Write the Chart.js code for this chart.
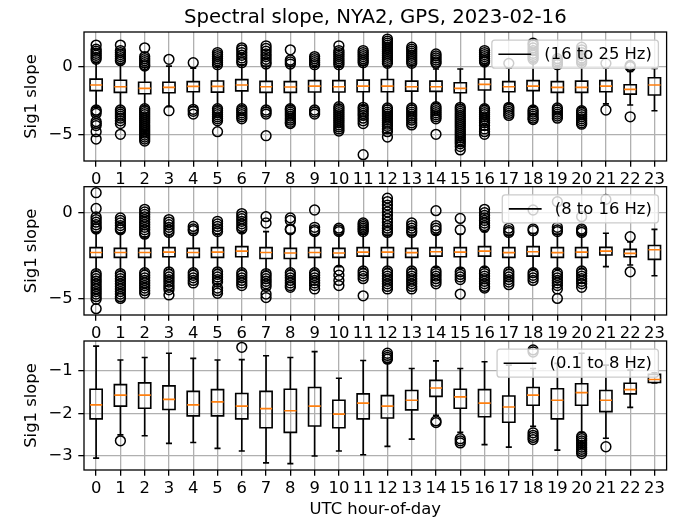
<!DOCTYPE html>
<html>
<head>
<meta charset="utf-8">
<title>Spectral slope, NYA2, GPS, 2023-02-16</title>
<script src="https://cdn.jsdelivr.net/npm/chart.js@4.4.1/dist/chart.umd.min.js"></script>
<style>
  body { margin: 0; background: #fff; }
  #wrap { position: relative; width: 673px; height: 520px; }
  #wrap canvas { position: absolute; left: 0; top: 0; }
</style>
</head>
<body>
<div id="wrap">
  <canvas id="hfChart" width="673" height="520"></canvas>
  <canvas id="mfChart" width="673" height="520"></canvas>
  <canvas id="lfChart" width="673" height="520"></canvas>
</div>
<script>
'use strict';
let hours = [0, 1, 2, 3, 4, 5, 6, 7, 8, 9, 10, 11, 12, 13, 14, 15, 16, 17, 18, 19, 20, 21, 22, 23];
let bandLabels = ['(16 to 25 Hz)', '(8 to 16 Hz)', '(0.1 to 8 Hz)'];
let hfTicks = [0, -5];
let mfTicks = [0, -5];
let lfTicks = [-1, -2, -3];
let hfRange = [-6.97, 2.57];
let mfRange = [-5.97, 1.52];
let lfRange = [-3.34, -0.29];

// 16 to 25 Hz
let hfQ3 = [-0.91, -1.0, -1.15, -1.15, -1.1, -1.05, -0.95, -1.08, -1.1, -1.03, -1.03, -0.99, -0.94, -1.06, -1.06, -1.18, -0.91, -1.1, -1.03, -1.1, -1.06, -1.03, -1.33, -0.81];
let hfMed = [-1.35, -1.48, -1.6, -1.53, -1.45, -1.45, -1.35, -1.48, -1.5, -1.43, -1.48, -1.43, -1.43, -1.48, -1.48, -1.6, -1.3, -1.48, -1.43, -1.53, -1.53, -1.43, -1.67, -1.35];
let hfQ1 = [-1.77, -1.9, -2.0, -1.92, -1.85, -1.88, -1.78, -1.9, -1.9, -1.87, -1.87, -1.85, -1.85, -1.8, -1.82, -1.92, -1.72, -1.85, -1.77, -1.9, -1.9, -1.85, -2.02, -2.09];
let hfHigh = [0.3, 0.2, -0.05, 0.05, -0.1, 0.0, 0.15, 0.05, 0.05, 0.0, 0.0, 0.1, 0.05, 0.1, -0.17, -0.17, 0.2, -0.1, 0.35, 0.0, 0.2, -0.1, -0.35, -0.12];
let hfLow = [-3.0, -3.0, -2.9, -2.95, -2.95, -2.9, -2.9, -3.0, -2.9, -3.0, -2.8, -2.85, -2.85, -2.85, -2.7, -2.8, -2.85, -2.75, -2.95, -2.85, -3.0, -2.75, -2.83, -3.25];
let hfOut = [
  [1.6, 1.3, 1.15, 1.0, 0.85, 0.7, 0.55, -3.2, -3.3, -3.45, -4.05, -4.2, -4.35, -4.8, -5.35],
  [1.6, 1.2, 1.05, 0.9, 0.75, 0.6, 0.45, -3.2, -3.35, -3.5, -3.65, -3.8, -4.0, -4.2, -5.0],
  [1.4, 0.75, 0.6, 0.45, 0.3, 0.15, 0.05, -3.1, -3.25, -3.4, -3.55, -3.7, -3.85, -4.0, -4.15, -4.3, -4.45, -4.6, -4.75, -4.9, -5.05, -5.2, -5.35, -5.5],
  [0.55, -3.25],
  [0.3, -3.15, -3.3, -3.5],
  [1.05, 0.9, 0.75, 0.6, 0.45, 0.3, 0.15, -3.1, -3.25, -3.4, -3.55, -3.7, -3.85, -4.0, -4.8],
  [1.4, 1.25, 1.05, 0.85, 0.65, 0.45, 0.3, -3.1, -3.25, -3.4, -3.55, -3.7, -3.85],
  [1.55, 1.35, 1.15, 0.95, 0.75, 0.55, 0.35, 0.2, -3.2, -3.35, -3.5, -5.1],
  [1.25, 0.5, 0.35, 0.2, -3.1, -3.2, -3.35, -3.5, -3.65, -3.8, -3.95, -4.1, -4.2],
  [0.75, 0.6, 0.45, 0.3, 0.15, -3.2, -3.35, -3.5],
  [1.55, 1.2, 1.05, 0.9, 0.75, 0.6, 0.45, 0.3, 0.15, -2.95, -3.1, -3.25, -3.4, -3.55, -3.7, -3.85, -4.0, -4.15, -4.3, -4.45, -4.6, -4.75],
  [1.2, 1.05, 0.9, 0.75, 0.6, 0.45, 0.3, -3.0, -3.15, -3.3, -3.45, -3.6, -3.8, -4.0, -4.2, -6.5],
  [2.05, 1.9, 1.75, 1.6, 1.45, 1.3, 1.15, 1.0, 0.85, 0.7, 0.55, 0.4, 0.25, -3.05, -3.2, -3.35, -3.5, -3.65, -3.8, -3.95, -4.1, -4.25, -4.4, -4.6, -4.8, -5.2],
  [1.45, 1.3, 1.15, 1.0, 0.85, 0.7, 0.55, 0.4, 0.25, -3.05, -3.2, -3.35, -3.5, -3.65, -3.8, -3.95, -4.15, -4.3],
  [0.95, 0.8, 0.65, 0.5, 0.35, 0.25, -2.95, -3.1, -3.25, -3.4, -3.55, -3.7, -3.85, -5.0],
  [-3.0, -3.15, -3.3, -3.45, -3.6, -3.75, -3.9, -4.05, -4.2, -4.35, -4.5, -4.65, -4.8, -4.95, -5.1, -5.25, -5.4, -5.55, -5.7, -5.9, -6.15],
  [1.2, 1.05, 0.9, 0.75, 0.6, 0.45, 0.35, -3.1, -3.25, -3.4, -3.55, -3.7, -3.85, -4.0, -4.15, -4.35, -4.6, -4.8, -5.0],
  [0.25, -3.0, -3.15, -3.3, -3.45, -3.6],
  [1.75, 1.6, 1.4, 1.2, 1.0, 0.85, 0.7, 0.55, -3.2, -3.35, -3.5, -3.65, -3.8, -3.9],
  [0.6, 0.45, 0.3, 0.15, -3.05, -3.2, -3.35, -3.5, -3.65, -3.8],
  [1.45, 1.25, 1.05, 0.85, 0.65, 0.45, 0.3, -3.25, -3.4, -3.55, -3.7, -3.85, -4.0, -4.15, -4.25],
  [0.25, -3.2],
  [0.1, 0.0, -3.7],
  []
];

// 8 to 16 Hz
let mfQ3 = [-2.04, -2.08, -2.08, -2.04, -2.08, -2.04, -1.98, -2.04, -2.08, -2.04, -2.08, -2.04, -2.04, -2.08, -2.04, -2.04, -1.98, -2.04, -1.98, -2.04, -2.04, -2.02, -2.14, -1.91];
let mfMed = [-2.32, -2.32, -2.32, -2.3, -2.32, -2.3, -2.24, -2.32, -2.35, -2.32, -2.35, -2.3, -2.3, -2.33, -2.28, -2.3, -2.24, -2.33, -2.28, -2.33, -2.3, -2.24, -2.37, -2.16];
let mfQ1 = [-2.61, -2.61, -2.61, -2.57, -2.61, -2.61, -2.57, -2.67, -2.67, -2.61, -2.61, -2.53, -2.61, -2.61, -2.53, -2.57, -2.53, -2.61, -2.53, -2.61, -2.61, -2.47, -2.57, -2.72];
let mfHigh = [-1.15, -1.2, -1.4, -1.3, -1.2, -1.25, -1.15, -1.1, -1.2, -1.3, -1.3, -1.25, -1.3, -1.3, -1.25, -1.25, -1.1, -1.3, -1.2, -1.25, -1.3, -1.2, -1.7, -0.97];
let mfLow = [-3.4, -3.4, -3.35, -3.3, -3.35, -3.3, -3.35, -3.4, -3.35, -3.35, -3.15, -3.25, -3.25, -3.25, -3.2, -3.25, -3.2, -3.3, -3.3, -3.3, -3.25, -3.15, -3.05, -3.68];
let mfOut = [
  [1.17, 0.25, -0.25, -0.4, -0.55, -0.7, -0.85, -0.95, -3.55, -3.7, -3.85, -4.0, -4.15, -4.3, -4.45, -4.6, -4.75, -4.9, -5.05, -5.6],
  [-0.3, -0.45, -0.6, -0.75, -0.9, -1.0, -3.55, -3.7, -3.85, -4.0, -4.15, -4.3, -4.45, -4.6, -4.75, -4.9, -5.0],
  [0.2, 0.05, -0.1, -0.25, -0.4, -0.55, -0.7, -0.85, -1.0, -1.15, -1.25, -3.5, -3.65, -3.8, -3.95, -4.1, -4.25, -4.4, -4.55, -4.7],
  [-0.4, -0.55, -0.7, -0.85, -1.0, -1.15, -3.45, -3.6, -3.75, -3.9, -4.05, -4.2, -4.35, -4.5, -4.8],
  [-0.8, -0.95, -1.05, -3.5, -3.65, -3.8, -3.95, -4.1],
  [-0.5, -0.65, -0.8, -0.95, -1.1, -3.45, -3.6, -3.75, -3.9, -4.05, -4.4, -4.55, -4.7],
  [-0.05, -0.2, -0.35, -0.5, -0.65, -0.8, -0.95, -3.5, -3.65, -3.8, -3.95, -4.1, -4.25],
  [-0.23, -0.6, -3.55, -3.7, -3.85, -4.0, -4.15, -4.3, -4.75, -4.95],
  [-0.3, -0.45, -0.95, -1.0, -3.5, -3.65, -3.8, -3.95, -4.1, -4.25, -4.35],
  [0.16, -0.85, -1.0, -1.1, -3.5, -3.65, -3.8, -3.95, -4.1, -4.25, -4.45],
  [-0.9, -1.0, -1.1, -3.35, -3.65, -3.95, -4.25],
  [-0.6, -0.7, -0.8, -0.9, -1.0, -1.1, -3.4, -3.55, -3.7, -3.85, -4.85],
  [0.85, 0.65, 0.45, 0.25, 0.05, -0.15, -0.35, -0.55, -0.75, -0.9, -1.05, -1.15, -3.4, -3.55, -3.7, -3.85, -4.0, -4.15, -4.3, -4.45],
  [-0.6, -0.75, -0.9, -1.05, -1.15, -3.4, -3.55, -3.7, -3.85, -4.0, -4.15, -4.3, -4.45],
  [0.12, -0.75, -0.9, -1.05, -3.4, -3.55, -3.7, -3.85, -4.0, -4.15],
  [-0.33, -1.0, -3.45, -3.6, -3.75, -3.9, -4.75],
  [0.2, 0.0, -0.15, -0.3, -0.45, -0.6, -0.75, -0.85, -3.4, -3.55, -3.7, -3.85, -4.0, -4.15, -4.3, -4.4],
  [-0.9, -1.05, -1.15, -3.45, -3.6, -3.75, -3.9, -4.05, -4.2],
  [0.16, -0.95, -1.05, -3.5, -3.65, -3.8, -3.95],
  [0.64, -0.85, -1.0, -1.1, -3.5, -3.65, -3.8, -3.95, -4.1, -4.25, -4.45, -5.0],
  [-0.23, -0.95, -1.05, -1.15, -3.4, -3.55, -3.7, -3.85, -4.0, -4.15, -4.35],
  [0.78],
  [-1.4, -3.45],
  []
];

// 0.1 to 8 Hz
let lfQ3 = [-1.43, -1.32, -1.28, -1.35, -1.48, -1.44, -1.53, -1.48, -1.43, -1.39, -1.69, -1.54, -1.58, -1.46, -1.22, -1.43, -1.44, -1.59, -1.39, -1.42, -1.30, -1.46, -1.29, -1.08];
let lfMed = [-1.80, -1.57, -1.57, -1.67, -1.80, -1.73, -1.83, -1.89, -1.94, -1.83, -2.02, -1.76, -1.83, -1.69, -1.40, -1.61, -1.76, -1.85, -1.57, -1.69, -1.51, -1.69, -1.44, -1.20];
let lfQ1 = [-2.13, -1.83, -1.88, -1.91, -2.06, -2.06, -2.13, -2.34, -2.45, -2.30, -2.34, -2.13, -2.11, -1.92, -1.60, -1.88, -2.08, -2.21, -1.81, -2.13, -1.81, -1.96, -1.54, -1.27];
let lfHigh = [-0.41, -0.74, -0.68, -0.58, -0.70, -0.74, -0.73, -0.64, -0.68, -0.54, -1.17, -0.75, -0.80, -0.94, -0.76, -0.94, -0.78, -0.86, -0.94, -0.82, -0.58, -0.86, -0.98, -1.04];
let lfLow = [-3.06, -2.51, -2.53, -2.71, -2.69, -2.83, -2.89, -3.17, -3.19, -3.01, -2.89, -2.98, -2.78, -2.61, -2.05, -2.45, -2.74, -2.80, -2.31, -2.87, -2.45, -2.59, -1.86, -1.28];
let lfOut = [[], [-2.65], [], [], [], [], [-0.44], [], [], [], [], [], [-0.58, -0.63, -0.68, -0.72], [], [-2.18, -2.22], [-2.6, -2.65, -2.7], [], [],
  [-0.5, -0.55, -2.46, -2.52, -2.57, -2.62], [], [-2.55, -2.6, -2.65, -2.7, -2.75, -2.8, -2.85, -2.9, -2.95], [-2.79], [], []];

const FS = 16.4;
const FAMILY = '"DejaVu Sans", sans-serif';
Chart.defaults.font.family = FAMILY;
Chart.defaults.color = '#000';
Chart.defaults.animation = false;

// axes frame and the legend box, drawn over the boxes like matplotlib does
const bandLegend = {
  id: 'bandLegend',
  afterDatasetsDraw(chart, args, opts){
    let ctx = chart.ctx;
    let a = chart.chartArea;
    ctx.save();
    ctx.strokeStyle = '#000';
    ctx.lineWidth = 1.3;
    ctx.strokeRect(a.left, a.top, a.right - a.left, a.bottom - a.top);

    ctx.font = FS + 'px ' + FAMILY;
    let tw = ctx.measureText(opts.label).width;
    let pad = 0.4 * FS, hl = 2 * FS, gap = 0.8 * FS;
    let w = pad + hl + gap + tw + pad;
    let h = 28;
    let x0 = a.right - 0.5 * FS - w;
    let y0 = a.top + 0.5 * FS;
    ctx.beginPath();
    if(ctx.roundRect){
      ctx.roundRect(x0, y0, w, h, 3);
    }else{
      ctx.rect(x0, y0, w, h);
    }
    ctx.fillStyle = 'rgba(255,255,255,0.8)';
    ctx.fill();
    ctx.strokeStyle = '#cccccc';
    ctx.lineWidth = 1.3;
    ctx.stroke();
    ctx.beginPath();
    ctx.moveTo(x0 + pad, y0 + h / 2);
    ctx.lineTo(x0 + pad + hl, y0 + h / 2);
    ctx.strokeStyle = '#000';
    ctx.lineWidth = 1.64;
    ctx.stroke();
    ctx.fillStyle = '#000';
    ctx.textBaseline = 'middle';
    ctx.fillText(opts.label, x0 + pad + hl + gap, y0 + h / 2 + 1);
    ctx.restore();
  }
};

function boxDatasets(q1, med, q3, low, high, out){
  let boxes = [], whiskers = [], medians = [], fliers = [];
  for(let i = 0; i < hours.length; i++){
    let h = hours[i];
    boxes.push({x: h - 0.25, y: q1[i]}, {x: h + 0.25, y: q1[i]}, {x: h + 0.25, y: q3[i]},
      {x: h - 0.25, y: q3[i]}, {x: h - 0.25, y: q1[i]}, {x: h + 0.25, y: q1[i]}, {x: h, y: null});
    whiskers.push({x: h, y: q3[i]}, {x: h, y: high[i]}, {x: h, y: null},
      {x: h, y: q1[i]}, {x: h, y: low[i]}, {x: h, y: null},
      {x: h - 0.125, y: high[i]}, {x: h + 0.125, y: high[i]}, {x: h, y: null},
      {x: h - 0.125, y: low[i]}, {x: h + 0.125, y: low[i]}, {x: h, y: null});
    medians.push({x: h - 0.25, y: med[i]}, {x: h + 0.25, y: med[i]}, {x: h, y: null});
    out[i].forEach(v => fliers.push({x: h, y: v}));
  }
  let line = {showLine: true, pointRadius: 0, borderWidth: 1.64, fill: false, spanGaps: false, tension: 0};
  return [
    Object.assign({label: 'medians', data: medians, borderColor: '#ff7f0e'}, line),
    Object.assign({label: 'boxes', data: boxes, borderColor: '#000'}, line),
    Object.assign({label: 'whiskers', data: whiskers, borderColor: '#000'}, line),
    {label: 'fliers', data: fliers, showLine: false, pointRadius: 4.9, pointBorderWidth: 1.5,
      pointBorderColor: '#000', pointBackgroundColor: 'rgba(0,0,0,0)'}
  ];
}

function makePanel(id, sets, range, yTicks, label, layout){
  let xScale = {
    type: 'linear',
    min: -0.5,
    max: 23.5,
    afterBuildTicks: s => { s.ticks = hours.map(v => ({value: v})); },
    afterFit: s => { s.height = layout.xHeight; },
    ticks: {autoSkip: false, maxRotation: 0, minRotation: 0, padding: 3, font: {size: FS}},
    grid: {color: '#b0b0b0', lineWidth: 1.3, tickLength: 5.7, tickColor: '#000', tickWidth: 1.3},
    border: {display: false},
    title: {display: !!layout.xTitle, text: layout.xTitle || '', font: {size: FS}, padding: {top: 0, bottom: 0}}
  };
  let yScale = {
    type: 'linear',
    min: range[0],
    max: range[1],
    afterBuildTicks: s => { s.ticks = yTicks.map(v => ({value: v})); },
    afterFit: s => { s.width = 84; },
    ticks: {padding: 5.7, font: {size: FS}, callback: v => String(v).replace('-', '\u2212')},
    grid: {color: '#b0b0b0', lineWidth: 1.3, tickLength: 5.7, tickColor: '#000', tickWidth: 1.3},
    border: {display: false},
    title: {display: true, text: 'Sig1 slope', font: {size: FS}, padding: {top: 22, bottom: 0}}
  };
  return new Chart(document.getElementById(id), {
    type: 'line',
    data: {datasets: sets},
    options: {
      responsive: false,
      devicePixelRatio: 1,
      events: [],
      layout: {padding: {left: 0, right: 2.5, top: layout.top, bottom: layout.bottom}},
      scales: {x: xScale, y: yScale},
      plugins: {
        legend: {display: false},
        tooltip: {enabled: false},
        title: {
          display: !!layout.title,
          text: layout.title || '',
          fullSize: false,
          color: '#000',
          font: {size: 19.7, weight: 'normal'},
          padding: {top: 5.8, bottom: 2.56}
        },
        bandLegend: {label: label}
      }
    },
    plugins: [bandLegend]
  });
}

makePanel('hfChart', boxDatasets(hfQ1, hfMed, hfQ3, hfLow, hfHigh, hfOut), hfRange, hfTicks, bandLabels[0],
  {title: 'Spectral slope, NYA2, GPS, 2023-02-16', top: 0, bottom: 329, xHeight: 30});
makePanel('mfChart', boxDatasets(mfQ1, mfMed, mfQ3, mfLow, mfHigh, mfOut), mfRange, mfTicks, bandLabels[1],
  {top: 186.7, bottom: 175, xHeight: 30});
makePanel('lfChart', boxDatasets(lfQ1, lfMed, lfQ3, lfLow, lfHigh, lfOut), lfRange, lfTicks, bandLabels[2],
  {top: 341, bottom: 0, xHeight: 50, xTitle: 'UTC hour-of-day'});
</script>
</body>
</html>
